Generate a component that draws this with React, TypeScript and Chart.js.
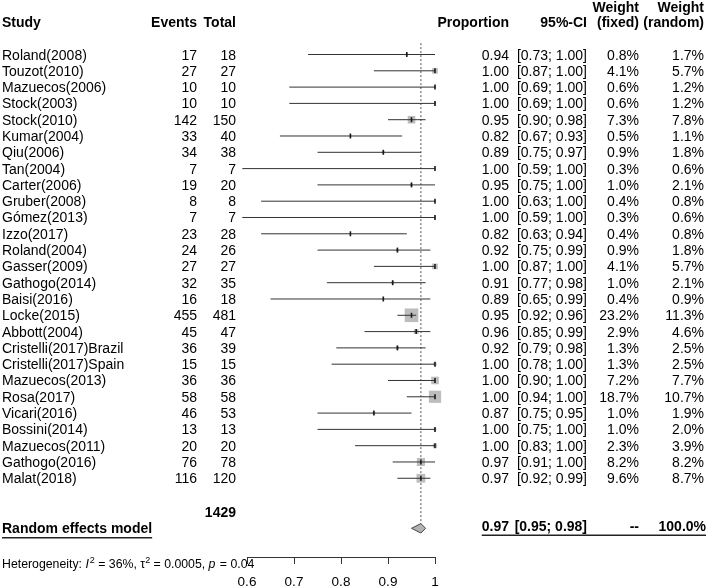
import React, { useEffect, useRef } from 'react';
import { Chart, registerables } from 'chart.js';

Chart.register(...registerables);

const studies = [
  'Roland(2008)', 'Touzot(2010)', 'Mazuecos(2006)', 'Stock(2003)', 'Stock(2010)', 'Kumar(2004)',
  'Qiu(2006)', 'Tan(2004)', 'Carter(2006)', 'Gruber(2008)', 'Gómez(2013)', 'Izzo(2017)',
  'Roland(2004)', 'Gasser(2009)', 'Gathogo(2014)', 'Baisi(2016)', 'Locke(2015)', 'Abbott(2004)',
  'Cristelli(2017)Brazil', 'Cristelli(2017)Spain', 'Mazuecos(2013)', 'Rosa(2017)', 'Vicari(2016)',
  'Bossini(2014)', 'Mazuecos(2011)', 'Gathogo(2016)', 'Malat(2018)',
];
const events = [17, 27, 10, 10, 142, 33, 34, 7, 19, 8, 7, 23, 24, 27, 32, 16, 455, 45, 36, 15, 36, 58, 46, 13, 20, 76, 116];
const totals = [18, 27, 10, 10, 150, 40, 38, 7, 20, 8, 7, 28, 26, 27, 35, 18, 481, 47, 39, 15, 36, 58, 53, 13, 20, 78, 120];
const proportions = [0.94, 1.0, 1.0, 1.0, 0.95, 0.82, 0.89, 1.0, 0.95, 1.0, 1.0, 0.82, 0.92, 1.0, 0.91, 0.89, 0.95, 0.96, 0.92, 1.0, 1.0, 1.0, 0.87, 1.0, 1.0, 0.97, 0.97];
const ciLower = [0.73, 0.87, 0.69, 0.69, 0.9, 0.67, 0.75, 0.59, 0.75, 0.63, 0.59, 0.63, 0.75, 0.87, 0.77, 0.65, 0.92, 0.85, 0.79, 0.78, 0.9, 0.94, 0.75, 0.75, 0.83, 0.91, 0.92];
const ciUpper = [1.0, 1.0, 1.0, 1.0, 0.98, 0.93, 0.97, 1.0, 1.0, 1.0, 1.0, 0.94, 0.99, 1.0, 0.98, 0.99, 0.96, 0.99, 0.98, 1.0, 1.0, 1.0, 0.95, 1.0, 1.0, 1.0, 0.99];
const weightFixed = [0.8, 4.1, 0.6, 0.6, 7.3, 0.5, 0.9, 0.3, 1.0, 0.4, 0.3, 0.4, 0.9, 4.1, 1.0, 0.4, 23.2, 2.9, 1.3, 1.3, 7.2, 18.7, 1.0, 1.0, 2.3, 8.2, 9.6];
const weightRandom = [1.7, 5.7, 1.2, 1.2, 7.8, 1.1, 1.8, 0.6, 2.1, 0.8, 0.6, 0.8, 1.8, 5.7, 2.1, 0.9, 11.3, 4.6, 2.5, 2.5, 7.7, 10.7, 1.9, 2.0, 3.9, 8.2, 8.7];

const totalEvents = 1429;
const pooledEst = 0.97;
const pooledLower = 0.95;
const pooledUpper = 0.98;
const pooledLabel = 'Random effects model';
const xTickLabels = ['0.6', '0.7', '0.8', '0.9', '1'];
const hetI2 = '36%';
const hetTau2 = '0.0005';
const hetP = '0.04';

const FAM = '"Liberation Sans", Arial, Helvetica, sans-serif';

// layout (row units on the y scale)
const N = studies.length;
const HEADER_ROW = -1.98;
const WEIGHT_ROW = -2.93;
const TOTAL_ROW = N + 1.05;
const POOLED_ROW = N + 2.07;
const HET_ROW = N + 4.27;
const Y_MIN = -3.344;
const Y_MAX = 30.83;
const COL = { study: 2, events: 197, total: 236, prop: 509, ci: 587, wf: 639, wr: 704 };

const textPlugin = {
  id: 'forestText',
  afterDraw(chart: any) {
    const ctx: CanvasRenderingContext2D = chart.ctx;
    const ys = chart.scales.y;
    const rowY = (r: number) => ys.getPixelForValue(r);
    const put = (t: string, x: number, y: number, align: CanvasTextAlign, bold = false, size = 14, style = '') => {
      ctx.font = `${style ? style + ' ' : ''}${bold ? 'bold ' : ''}${size}px ${FAM}`;
      ctx.textAlign = align;
      ctx.fillText(t, x, y);
    };
    ctx.save();
    ctx.fillStyle = '#000';
    ctx.textBaseline = 'alphabetic';

    // headers
    const h = rowY(HEADER_ROW) + 5;
    const hw = rowY(WEIGHT_ROW) + 5;
    put('Study', COL.study, h, 'left', true);
    put('Events', COL.events, h, 'right', true);
    put('Total', COL.total, h, 'right', true);
    put('Proportion', COL.prop, h, 'right', true);
    put('95%-CI', COL.ci, h, 'right', true);
    put('Weight', COL.wf, hw, 'right', true);
    put('(fixed)', COL.wf, h, 'right', true);
    put('Weight', COL.wr, hw, 'right', true);
    put('(random)', COL.wr, h, 'right', true);

    // rows
    for (let i = 0; i < N; i++) {
      const y = rowY(i) + 5;
      put(studies[i], COL.study, y, 'left');
      put(String(events[i]), COL.events, y, 'right');
      put(String(totals[i]), COL.total, y, 'right');
      put(proportions[i].toFixed(2), COL.prop, y, 'right');
      put(`[${ciLower[i].toFixed(2)}; ${ciUpper[i].toFixed(2)}]`, COL.ci, y, 'right');
      put(weightFixed[i].toFixed(1) + '%', COL.wf, y, 'right');
      put(weightRandom[i].toFixed(1) + '%', COL.wr, y, 'right');
    }

    put(String(totalEvents), COL.total, rowY(TOTAL_ROW) + 5, 'right', true);

    // pooled row
    const py = rowY(POOLED_ROW) + 5;
    put(pooledLabel, COL.study, py, 'left', true);
    ctx.font = `bold 14px ${FAM}`;
    const lw = ctx.measureText(pooledLabel).width;
    ctx.strokeStyle = '#222';
    ctx.lineWidth = 1.5;
    ctx.beginPath();
    ctx.moveTo(COL.study, py + 4.5);
    ctx.lineTo(COL.study + lw, py + 4.5);
    ctx.stroke();
    const py2 = py - 2.5;
    put(pooledEst.toFixed(2), COL.prop, py2, 'right', true);
    put(`[${pooledLower.toFixed(2)}; ${pooledUpper.toFixed(2)}]`, COL.ci, py2, 'right', true);
    put('--', COL.wf, py2, 'right', true);
    put('100.0%', COL.wr + 2, py2, 'right', true);
    ctx.font = `bold 14px ${FAM}`;
    const left2 = COL.prop - ctx.measureText(pooledEst.toFixed(2)).width;
    ctx.beginPath();
    ctx.moveTo(left2, py2 + 4.5);
    ctx.lineTo(COL.wr + 2, py2 + 4.5);
    ctx.stroke();

    // heterogeneity
    const hy = rowY(HET_ROW) + 4.2;
    const parts: { t: string; style?: string; sup?: boolean }[] = [
      { t: 'Heterogeneity: ' },
      { t: 'I', style: 'italic' },
      { t: '2', sup: true },
      { t: ' = ' + hetI2 + ', τ' },
      { t: '2', sup: true },
      { t: ' = ' + hetTau2 + ', ' },
      { t: 'p', style: 'italic' },
      { t: ' = ' + hetP },
    ];
    let x = COL.study;
    ctx.textAlign = 'left';
    for (const p of parts) {
      const size = p.sup ? 9 : 12.3;
      ctx.font = `${p.style ? p.style + ' ' : ''}${size}px ${FAM}`;
      ctx.fillText(p.t, x, p.sup ? hy - 5 : hy);
      x += ctx.measureText(p.t).width + (p.style ? 1 : 0);
    }
    ctx.restore();
  },
};

export default function App() {
  const ref = useRef<HTMLCanvasElement | null>(null);
  useEffect(() => {
    if (!ref.current) return;
    const whiskers: any[] = [];
    for (let i = 0; i < N; i++) {
      whiskers.push({ x: ciLower[i], y: i }, { x: ciUpper[i], y: i }, { x: NaN, y: i });
    }
    const points = proportions.map((p, i) => ({ x: p, y: i }));
    const h = 0.29;
    const chart = new Chart(ref.current, {
      type: 'scatter',
      data: {
        datasets: [
          {
            data: points,
            pointStyle: 'line',
            rotation: 90,
            pointRadius: 2.5,
            pointHoverRadius: 2.5,
            borderColor: '#1a1a1a',
            borderWidth: 1.6,
            clip: false,
            order: 0,
          } as any,
          {
            data: whiskers,
            showLine: true,
            spanGaps: false,
            pointRadius: 0,
            borderColor: '#333',
            borderWidth: 1,
            clip: false,
            order: 1,
          } as any,
          {
            data: points,
            pointStyle: 'rect',
            pointRadius: (c: any) => 2 * Math.sqrt(weightFixed[c.dataIndex] ?? 0),
            backgroundColor: '#bdbdbd',
            borderWidth: 0,
            clip: false,
            order: 2,
          } as any,
          {
            data: [
              { x: pooledEst, y: -0.7 },
              { x: pooledEst, y: POOLED_ROW - h },
            ],
            showLine: true,
            pointRadius: 0,
            borderColor: '#555',
            borderWidth: 1,
            borderDash: [2, 2],
            clip: false,
            order: 3,
          } as any,
          {
            data: [
              { x: pooledLower, y: POOLED_ROW },
              { x: pooledEst, y: POOLED_ROW - h },
              { x: pooledUpper, y: POOLED_ROW },
              { x: pooledEst, y: POOLED_ROW + h },
              { x: pooledLower, y: POOLED_ROW },
            ],
            showLine: true,
            pointRadius: 0,
            borderColor: '#444',
            borderWidth: 1,
            backgroundColor: '#b3b3b3',
            fill: 'shape',
            clip: false,
            order: 1,
          } as any,
        ],
      },
      options: {
        animation: false,
        responsive: false,
        events: [],
        layout: { autoPadding: false, padding: { left: 247, right: 273, top: 0, bottom: 0 } },
        plugins: { legend: { display: false }, tooltip: { enabled: false } },
        scales: {
          x: {
            type: 'linear',
            min: 0.6,
            max: 1,
            position: 'bottom',
            afterFit: (s: any) => {
              s.height = 30;
            },
            afterBuildTicks: (s: any) => {
              s.ticks = xTickLabels.map((l) => ({ value: parseFloat(l) }));
            },
            ticks: {
              callback: (_v: any, i: number) => xTickLabels[i],
              font: { size: 13.5, family: FAM },
              color: '#000',
              padding: 10,
              maxRotation: 0,
              autoSkip: false,
            },
            grid: { drawOnChartArea: false, drawTicks: true, tickLength: 7, color: '#333' },
            border: { display: true, color: '#333', width: 1 },
          },
          y: {
            type: 'linear',
            display: false,
            reverse: true,
            min: Y_MIN,
            max: Y_MAX,
          },
        },
      } as any,
      plugins: [textPlugin],
    });
    return () => chart.destroy();
  }, []);
  return (
    <div style={{ position: 'fixed', left: 0, top: 0, width: 708, height: 587, background: '#fff' }}>
      <canvas ref={ref} width={708} height={587} />
    </div>
  );
}
